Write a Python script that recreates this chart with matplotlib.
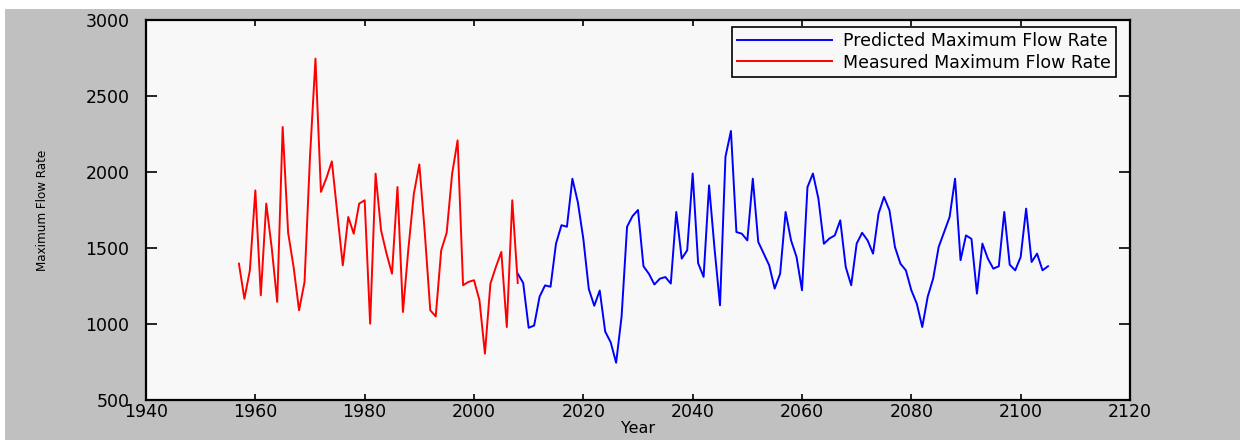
import matplotlib
matplotlib.use("Agg")
import matplotlib.pyplot as plt
from matplotlib.patches import Rectangle

# measured maximum flow rate, 1957-2008
measured_years = list(range(1957, 2009))
measured_flow = [1397, 1166, 1353, 1879, 1189, 1792, 1500, 1145, 2296, 1600,
                 1375, 1090, 1276, 2100, 2746, 1869, 1960, 2070, 1726, 1386,
                 1704, 1594, 1792, 1814, 1002, 1989, 1616, 1463, 1331, 1901,
                 1079, 1496, 1858, 2050, 1600, 1090, 1050, 1485, 1600, 1989,
                 2208, 1255, 1277, 1288, 1156, 805, 1265, 1375, 1474, 980,
                 1814, 1270]

# predicted maximum flow rate, 2008-2105
predicted_years = list(range(2008, 2106))
predicted_flow = [1331, 1270, 975, 990, 1180, 1254, 1245, 1529, 1650, 1640,
                  1956, 1800, 1560, 1230, 1120, 1220, 950, 880, 745, 1050,
                  1640, 1710, 1750, 1380, 1330, 1260, 1298, 1309, 1266, 1737,
                  1430, 1485, 1990, 1400, 1310, 1912, 1496, 1123, 2100, 2270,
                  1605, 1594, 1550, 1956, 1540, 1463, 1386, 1233, 1331, 1737,
                  1550, 1441, 1222, 1900, 1990, 1825, 1528, 1562, 1583, 1682,
                  1375, 1255, 1529, 1600, 1550, 1463, 1726, 1836, 1748, 1507,
                  1397, 1353, 1222, 1134, 980, 1180, 1300, 1507, 1605, 1704,
                  1956, 1420, 1583, 1560, 1200, 1529, 1430, 1364, 1380, 1737,
                  1390, 1353, 1441, 1759, 1408, 1463, 1353, 1380]

x_ticks = list(range(1940, 2121, 20))
y_ticks = list(range(500, 3001, 500))

fig = plt.figure(figsize=(12.4, 4.4), dpi=100)
fig.patch.set_facecolor("white")
# grey window background with a thin white strip top/left
fig.patches.append(Rectangle((5 / 1240, 0), 1, 1 - 9 / 440, transform=fig.transFigure,
                             facecolor="#c0c0c0", edgecolor="none", zorder=-10))

ax = fig.add_axes([146 / 1240, 40 / 440, (1130 - 146) / 1240, (400 - 20) / 440])
ax.set_facecolor("#f8f8f8")

ax.plot(predicted_years, predicted_flow, color="#0000ff", lw=1.4,
        label="Predicted Maximum Flow Rate")
ax.plot(measured_years, measured_flow, color="#ff0000", lw=1.4,
        label="Measured Maximum Flow Rate")

ax.set_xlim(1940, 2120)
ax.set_ylim(500, 3000)
ax.set_xticks(x_ticks)
ax.set_yticks(y_ticks)
ax.tick_params(axis="x", direction="in", top=True, length=4, width=1.2,
               labelsize=12.5, pad=2)
ax.tick_params(axis="y", direction="in", right=True, length=8, width=1.2,
               labelsize=12.5, pad=12)
for sp in ax.spines.values():
    sp.set_linewidth(1.6)
    sp.set_color("black")

ax.set_xlabel("Year", fontsize=11.5, labelpad=0)
ax.set_ylabel("Maximum Flow Rate", fontsize=9.5, fontstretch="condensed",
              labelpad=26)

leg = ax.legend(loc="upper right", bbox_to_anchor=(0.9855, 0.982), fontsize=12.5,
                handlelength=5.5, handletextpad=0.6, fancybox=False,
                framealpha=1, borderpad=0.3, labelspacing=0.2, borderaxespad=0)
leg.get_frame().set_edgecolor("black")
leg.get_frame().set_linewidth(1.2)
leg.get_frame().set_facecolor("#f8f8f8")

fig.savefig("out.png", dpi=100, facecolor=fig.get_facecolor())
